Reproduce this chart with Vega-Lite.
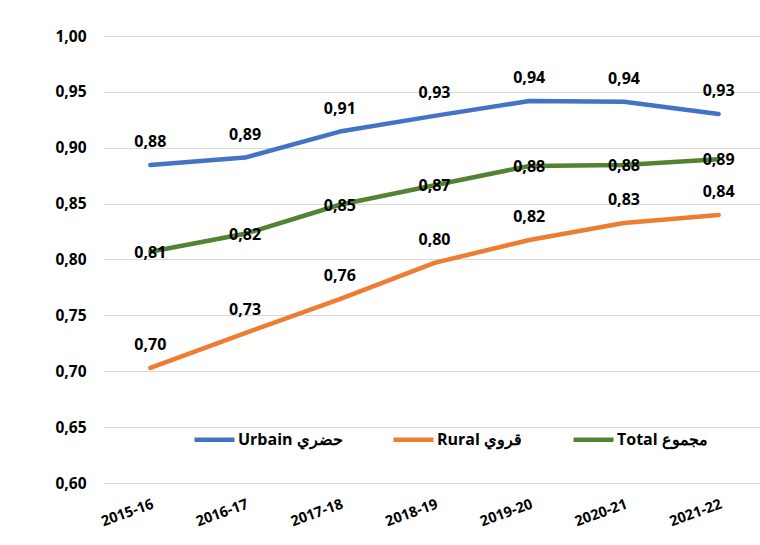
{
  "$schema": "https://vega.github.io/schema/vega-lite/v6.json",
  "width": 663,
  "height": 447,
  "autosize": {"type": "none"},
  "padding": {"left": 103, "top": 36, "right": 0, "bottom": 62},
  "background": "white",
  "config": {
    "view": {"stroke": null},
    "font": "Open Sans",
    "locale": {"number": {"decimal": ",", "thousands": ".", "grouping": [3], "currency": ["", ""]}}
  },
  "data": {
    "values": [
      {"year": "2015-16", "series": "Urbain حضري", "value": 0.8846},
      {"year": "2016-17", "series": "Urbain حضري", "value": 0.8912},
      {"year": "2017-18", "series": "Urbain حضري", "value": 0.9145},
      {"year": "2018-19", "series": "Urbain حضري", "value": 0.9285},
      {"year": "2019-20", "series": "Urbain حضري", "value": 0.9418},
      {"year": "2020-21", "series": "Urbain حضري", "value": 0.9412},
      {"year": "2021-22", "series": "Urbain حضري", "value": 0.9302},
      {"year": "2015-16", "series": "Rural قروي", "value": 0.703},
      {"year": "2016-17", "series": "Rural قروي", "value": 0.7342},
      {"year": "2017-18", "series": "Rural قروي", "value": 0.7645},
      {"year": "2018-19", "series": "Rural قروي", "value": 0.797},
      {"year": "2019-20", "series": "Rural قروي", "value": 0.8174},
      {"year": "2020-21", "series": "Rural قروي", "value": 0.8327},
      {"year": "2021-22", "series": "Rural قروي", "value": 0.8398},
      {"year": "2015-16", "series": "Total مجموع", "value": 0.807},
      {"year": "2016-17", "series": "Total مجموع", "value": 0.823},
      {"year": "2017-18", "series": "Total مجموع", "value": 0.849},
      {"year": "2018-19", "series": "Total مجموع", "value": 0.8665},
      {"year": "2019-20", "series": "Total مجموع", "value": 0.8837},
      {"year": "2020-21", "series": "Total مجموع", "value": 0.8846},
      {"year": "2021-22", "series": "Total مجموع", "value": 0.8897}
    ]
  },
  "encoding": {
    "x": {
      "field": "year",
      "type": "nominal",
      "sort": null,
      "title": null,
      "axis": {
        "domain": false,
        "ticks": false,
        "grid": false,
        "labelAngle": -20,
        "labelAlign": "right",
        "labelBaseline": "top",
        "labelPadding": 14,
        "labelFont": "Open Sans",
        "labelFontSize": 14.5,
        "labelFontWeight": "bold",
        "labelColor": "#000000"
      }
    },
    "y": {
      "field": "value",
      "type": "quantitative",
      "title": null,
      "scale": {"domain": [0.6, 1.0], "zero": false, "nice": false},
      "axis": {
        "values": [0.6, 0.65, 0.7, 0.75, 0.8, 0.85, 0.9, 0.95, 1.0],
        "format": ".2f",
        "domain": false,
        "ticks": false,
        "grid": true,
        "gridColor": "#d9d9d9",
        "gridWidth": 1.2,
        "labelPadding": 17,
        "labelFont": "Open Sans",
        "labelFontSize": 15.5,
        "labelFontWeight": "bold",
        "labelColor": "#000000"
      }
    },
    "color": {
      "field": "series",
      "type": "nominal",
      "scale": {
        "domain": ["Urbain حضري", "Rural قروي", "Total مجموع"],
        "range": ["#4472C4", "#ED7D31", "#548235"]
      },
      "legend": {
        "title": null,
        "orient": "none",
        "legendX": 89,
        "legendY": 381,
        "direction": "horizontal",
        "symbolType": "stroke",
        "symbolSize": 1600,
        "symbolStrokeWidth": 4.5,
        "labelFont": "Open Sans",
        "labelFontSize": 16,
        "labelFontWeight": "bold",
        "labelColor": "#000000",
        "labelOffset": 1,
        "columnPadding": 41
      }
    }
  },
  "layer": [
    {
      "mark": {"type": "line", "strokeWidth": 4.5, "strokeCap": "round", "strokeJoin": "round"}
    },
    {
      "transform": [{"filter": "datum.series !== 'Total مجموع'"}],
      "mark": {"type": "text", "dy": -23, "font": "Open Sans", "fontSize": 16, "fontWeight": "bold"},
      "encoding": {
        "text": {"field": "value", "type": "quantitative", "format": ".2f"},
        "color": {"value": "#000000"}
      }
    },
    {
      "transform": [{"filter": "datum.series === 'Total مجموع'"}],
      "mark": {"type": "text", "dy": 1, "font": "Open Sans", "fontSize": 16, "fontWeight": "bold"},
      "encoding": {
        "text": {"field": "value", "type": "quantitative", "format": ".2f"},
        "color": {"value": "#000000"}
      }
    }
  ]
}
